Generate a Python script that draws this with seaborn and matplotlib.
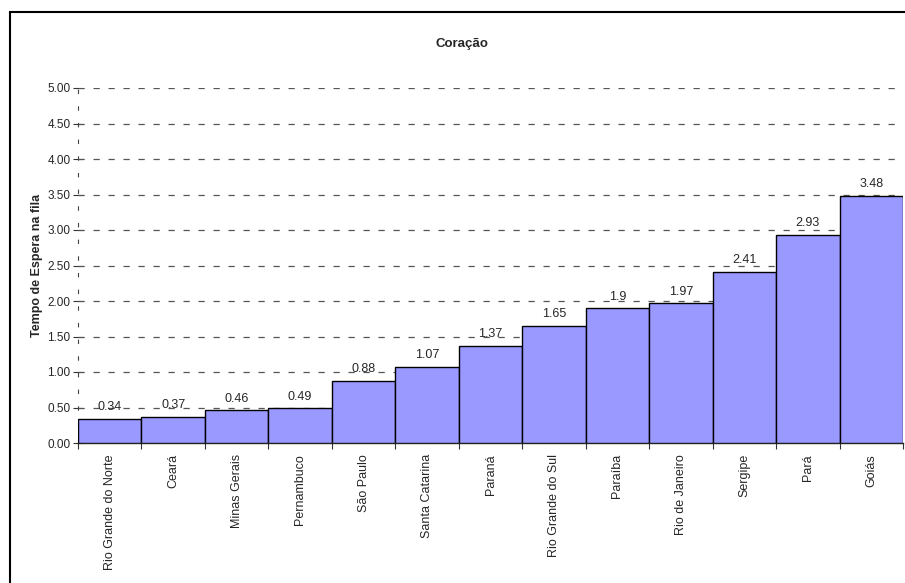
import matplotlib
matplotlib.use("Agg")
import matplotlib.pyplot as plt
import seaborn as sns
import numpy as np
import pandas as pd
from matplotlib.patches import Rectangle

estados = ["Rio Grande do Norte", "Ceará", "Minas Gerais", "Pernambuco", "São Paulo",
           "Santa Catarina", "Paraná", "Rio Grande do Sul", "Paraíba", "Rio de Janeiro",
           "Sergipe", "Pará", "Goiás"]
tempos = [0.34, 0.37, 0.46, 0.49, 0.88, 1.07, 1.37, 1.65, 1.9, 1.97, 2.41, 2.93, 3.48]
rotulos = ["0.34", "0.37", "0.46", "0.49", "0.88", "1.07", "1.37", "1.65", "1.9", "1.97",
           "2.41", "2.93", "3.48"]
yticks = [0.0, 0.5, 1.0, 1.5, 2.0, 2.5, 3.0, 3.5, 4.0, 4.5, 5.0]

sns.set_theme(style="white")
plt.rcParams["font.family"] = ["Liberation Sans", "DejaVu Sans"]

df = pd.DataFrame({"estado": estados, "tempo": tempos})

fig = plt.figure(figsize=(9.05, 5.83), dpi=100)
ax = fig.add_axes([78 / 905, 1 - 443 / 583, (903 - 78) / 905, (443 - 88) / 583])

sns.barplot(data=df, x="estado", y="tempo", color="#9999FF", width=1.0,
            edgecolor="black", linewidth=1.0, saturation=1, ax=ax, zorder=3)

ax.set_ylim(0, 5.0)
ax.set_xlim(-0.5, len(estados) - 0.5)
ax.set_yticks(yticks)
ax.set_yticklabels([f"{v:.2f}" for v in yticks], fontsize=8.5)
for v in yticks[1:]:
    ax.axhline(v, color="#555555", linestyle=(0, (5, 7)), linewidth=0.9, zorder=1)

ax.set_xticks(range(len(estados)))
ax.set_xticklabels(estados, rotation=90, fontsize=9, va="top", ha="center")
ax.tick_params(axis="x", which="major", length=0, pad=8)
ax.set_xticks(np.arange(-0.5, len(estados), 1.0), minor=True)
ax.tick_params(axis="x", which="minor", length=4, width=0.8, color="#333333",
               direction="out", bottom=True)
ax.tick_params(axis="y", which="major", length=7, width=0.8, color="#333333",
               direction="inout", left=True, pad=2, labelsize=8.5)

for s in ["top", "right"]:
    ax.spines[s].set_visible(False)
ax.spines["left"].set_color("#444444")
ax.spines["left"].set_linestyle((0, (3, 12)))
ax.spines["left"].set_linewidth(0.8)
ax.spines["bottom"].set_color("#222222")
ax.spines["bottom"].set_linewidth(1.0)

for i, (v, t) in enumerate(zip(tempos, rotulos)):
    ax.annotate(t, (i, v), xytext=(0, 4), textcoords="offset points",
                ha="center", va="bottom", fontsize=9, zorder=4)

ax.set_xlabel("")
ax.set_ylabel("")
fig.text(37 / 905, 1 - 265 / 583, "Tempo de Espera na fila", rotation=90,
         ha="center", va="center", fontsize=9, fontweight="bold")

fig.text(462 / 905, 1 - 44 / 583, "Coração", ha="center", va="center",
         fontsize=9.5, fontweight="bold")

fig.patches.append(Rectangle((10 / 905, -0.1), 1.2, 1 - 12 / 583 + 0.1,
                             transform=fig.transFigure, fill=False,
                             edgecolor="black", linewidth=1.5))

fig.savefig("out.png", dpi=100)
